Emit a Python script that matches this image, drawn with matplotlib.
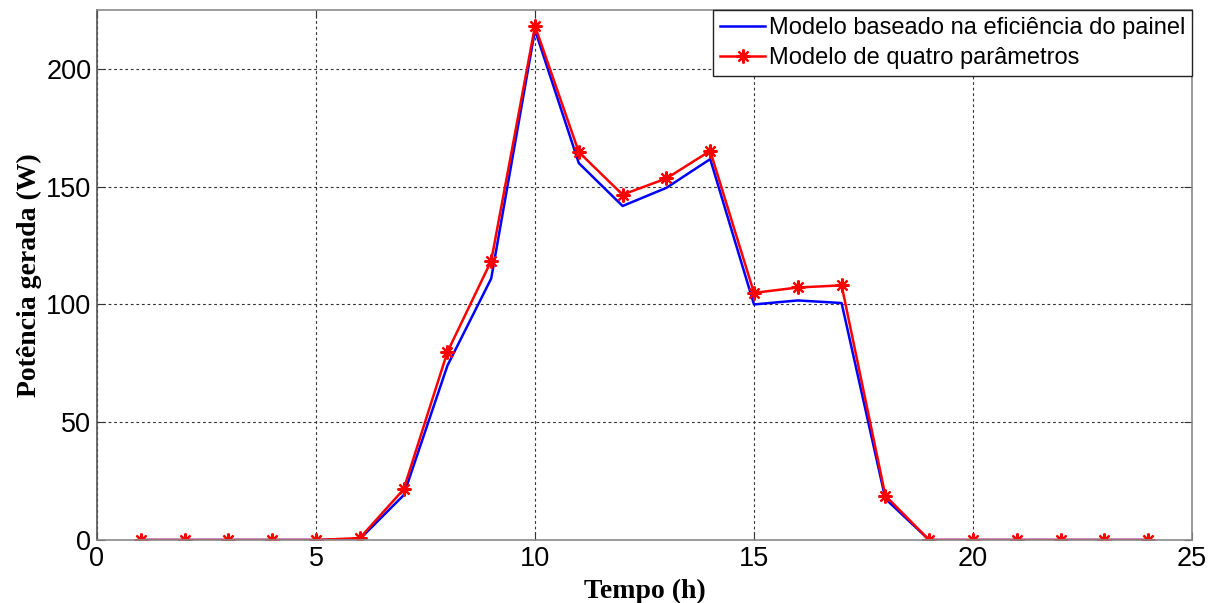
import matplotlib
matplotlib.use("Agg")
import matplotlib.pyplot as plt

# Hourly generated power (W) for the two PV models
hours = list(range(1, 25))
power_efficiency = [0, 0, 0, 0, 0, 0.4, 19, 74, 111, 216.5, 160, 141.8, 149.5, 161.7,
                    100, 101.7, 100.6, 17.5, 0, 0, 0, 0, 0, 0]
power_four_param = [0, 0, 0, 0, 0, 0.8, 21.5, 79.8, 118.5, 218.2, 164.7, 146.6, 153.5, 165.2,
                    104.9, 107.2, 108.1, 18.8, 0, 0, 0, 0, 0, 0]

label_efficiency = "Modelo baseado na eficiência do painel"
label_four_param = "Modelo de quatro parâmetros"
x_label = "Tempo (h)"
y_label = "Potência gerada (W)"
x_ticks = [0, 5, 10, 15, 20, 25]
y_ticks = [0, 50, 100, 150, 200]

plt.rcParams["font.family"] = ["Liberation Sans", "DejaVu Sans"]

fig = plt.figure(figsize=(12.21, 6.03), dpi=100)
ax = fig.add_axes([97 / 1221, 63 / 603, 1095 / 1221, 530 / 603])

ax.plot(hours, power_efficiency, color="#0000ff", lw=1.8, label=label_efficiency)
ax.plot(hours, power_four_param, color="#ff0000", lw=1.8, marker=(8, 2, 0),
        markersize=10, markeredgewidth=1.6, label=label_four_param)

ax.set_xlim(0, 25)
ax.set_ylim(0, 225)
ax.set_xticks(x_ticks)
ax.set_yticks(y_ticks)
ax.tick_params(direction="in", length=6, width=0.8, labelsize=19.5,
               top=True, right=True, colors="#333333", labelcolor="black", pad=4)
ax.grid(True, linestyle=(0, (2.5, 2.5)), color="#333333", linewidth=0.8)

for side, sp in ax.spines.items():
    sp.set_color("#555555" if side == "left" else "#8a8a8a")
    sp.set_linewidth(1.2)

ax.set_xlabel(x_label, family="Liberation Serif", fontweight="bold", fontsize=20, labelpad=5)
ax.set_ylabel(y_label, family="Liberation Serif", fontweight="bold", fontsize=20, labelpad=3)

leg = ax.legend(loc="upper right", fontsize=17, frameon=True, fancybox=False,
                edgecolor="#222222", framealpha=1, borderaxespad=0.0,
                handlelength=1.9, handletextpad=0.15, borderpad=0.3, labelspacing=0.35)
leg.get_frame().set_linewidth(1.0)
leg.set_zorder(5)

fig.savefig("out.png", dpi=100)
